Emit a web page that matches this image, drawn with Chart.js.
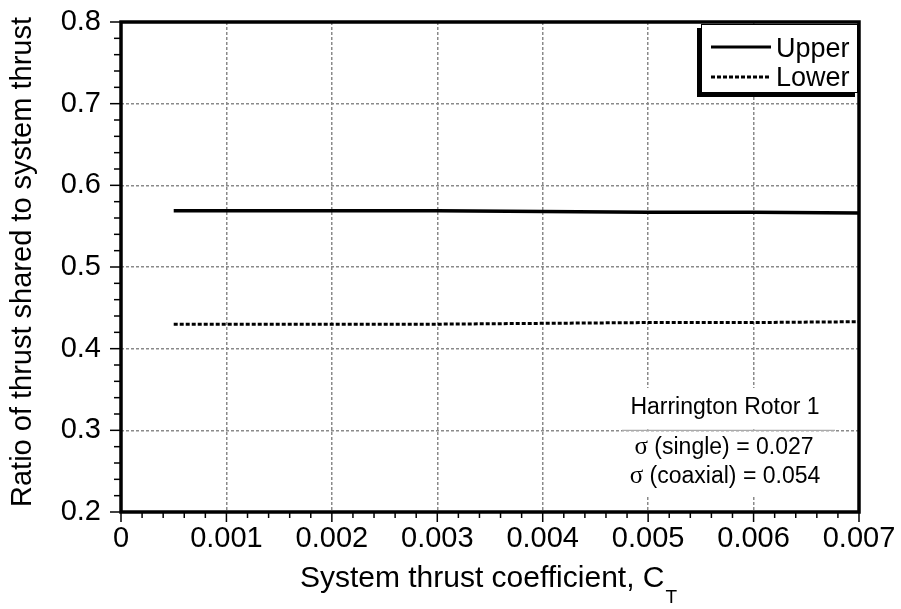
<html>

<head>
    <script src="https://cdn.jsdelivr.net/npm/chart.js@4.4.1/dist/chart.umd.min.js"></script>
    <style>
        body { margin: 0; background: #fff; }
    </style>
</head>

<body>
    <canvas id="thrust-share" width="901" height="609"></canvas>
</body>

<script>
    // values
    var ctValues = [0.0005, 0.001, 0.002, 0.003, 0.004, 0.005, 0.006, 0.007];
    var upperShare = [0.569, 0.569, 0.569, 0.569, 0.568, 0.567, 0.567, 0.566];
    var lowerShare = [0.430, 0.430, 0.430, 0.430, 0.431, 0.432, 0.432, 0.433];
    var xTicks = [0, 0.001, 0.002, 0.003, 0.004, 0.005, 0.006, 0.007];
    var yTicks = [0.2, 0.3, 0.4, 0.5, 0.6, 0.7, 0.8];
    var seriesNames = ["Upper", "Lower"];
    var noteLines = ["Harrington Rotor 1", "\u03c3 (single) = 0.027", "\u03c3 (coaxial) = 0.054"];

    var FONT = "'Liberation Sans', Arial, sans-serif";

    function toPoints(xs, ys) {
        return xs.map(function(x, i) { return {x: x, y: ys[i]}; });
    }

    // sigma drawn in a serif face like the original, rest in sans
    function noteLine(ctx, text, cx, y) {
        var sig = text.charAt(0) === '\u03c3';
        var rest = sig ? text.slice(1) : text;
        ctx.font = '23px ' + FONT;
        var wr = ctx.measureText(rest).width;
        var ws = 0;
        if (sig) {
            ctx.font = '25px "Liberation Serif", serif';
            ws = ctx.measureText('\u03c3').width;
        }
        var x0 = cx - (wr + ws) / 2;
        ctx.textAlign = 'left';
        if (sig) {
            ctx.font = '25px "Liberation Serif", serif';
            ctx.fillText('\u03c3', x0, y);
        }
        ctx.font = '23px ' + FONT;
        ctx.fillText(rest, x0 + ws, y);
    }

    var extras = {
        id: 'extras',
        afterDatasetsDraw: function(chart) {
            var ctx = chart.ctx;
            var gy = chart.scales.y.getPixelForValue(0.3);

            // annotation block
            ctx.save();
            ctx.fillStyle = '#fff';
            ctx.fillRect(622, 388, 213, gy - 389);
            ctx.fillRect(622, gy + 1.5, 213, 494 - gy);
            ctx.strokeStyle = '#aaa';
            ctx.lineWidth = 1.2;
            ctx.beginPath();
            ctx.moveTo(622, gy);
            ctx.lineTo(835, gy);
            ctx.stroke();
            ctx.fillStyle = '#000';
            ctx.textBaseline = 'alphabetic';
            noteLine(ctx, noteLines[0], 725, 414);
            noteLine(ctx, noteLines[1], 724, 454);
            noteLine(ctx, noteLines[2], 725, 483);
            ctx.restore();

            // legend box with shadow
            ctx.save();
            ctx.fillStyle = '#000';
            ctx.fillRect(697, 28, 158, 69);
            ctx.fillStyle = '#fff';
            ctx.fillRect(701, 24, 157, 69);
            ctx.strokeStyle = '#000';
            ctx.lineWidth = 1;
            ctx.strokeRect(701.5, 24.5, 156, 68);
            ctx.lineWidth = 3;
            ctx.beginPath();
            ctx.moveTo(711, 47);
            ctx.lineTo(771, 47);
            ctx.stroke();
            ctx.setLineDash([4, 2]);
            ctx.beginPath();
            ctx.moveTo(711, 77);
            ctx.lineTo(771, 77);
            ctx.stroke();
            ctx.setLineDash([]);
            ctx.fillStyle = '#000';
            ctx.font = '27px ' + FONT;
            ctx.textAlign = 'left';
            ctx.fillText(seriesNames[0], 776, 57);
            ctx.fillText(seriesNames[1], 776, 86);
            ctx.restore();
        },
        afterDraw: function(chart) {
            var ctx = chart.ctx;
            var a = chart.chartArea;
            var xs = chart.scales.x;
            var ys = chart.scales.y;

            ctx.save();
            ctx.strokeStyle = '#000';
            ctx.lineWidth = 1.5;
            // x ticks, minor every 0.0002
            for (var i = 0; i <= 35; i++) {
                var px = xs.getPixelForValue(i * 0.0002);
                var len = (i % 5 === 0) ? 10 : 6;
                ctx.beginPath();
                ctx.moveTo(px, a.bottom);
                ctx.lineTo(px, a.bottom + len);
                ctx.stroke();
            }
            // y ticks, minor every 0.02
            for (var j = 0; j <= 30; j++) {
                var py = ys.getPixelForValue(0.2 + j * 0.02);
                var ylen = (j % 5 === 0) ? 11 : 7;
                ctx.beginPath();
                ctx.moveTo(a.left, py);
                ctx.lineTo(a.left - ylen, py);
                ctx.stroke();
            }
            // frame
            ctx.lineWidth = 3.5;
            ctx.strokeRect(a.left, a.top, a.right - a.left, a.bottom - a.top);

            // axis titles
            ctx.fillStyle = '#000';
            ctx.font = '29px ' + FONT;
            ctx.textAlign = 'center';
            ctx.textBaseline = 'middle';
            ctx.save();
            ctx.translate(23, 262);
            ctx.rotate(-Math.PI / 2);
            ctx.fillText('Ratio of thrust shared to system thrust', 0, 0);
            ctx.restore();

            var mainText = 'System thrust coefficient, C';
            ctx.textBaseline = 'alphabetic';
            ctx.textAlign = 'left';
            ctx.font = '30px ' + FONT;
            var w1 = ctx.measureText(mainText).width;
            ctx.font = '19px ' + FONT;
            var w2 = ctx.measureText('T').width;
            var startX = 488 - (w1 + w2) / 2;
            ctx.font = '30px ' + FONT;
            ctx.fillText(mainText, startX, 587);
            ctx.font = '19px ' + FONT;
            ctx.fillText('T', startX + w1 + 1, 603);
            ctx.restore();
        }
    };

    var ctx = document.getElementById('thrust-share');
    var myChart = new Chart(ctx, {
        type: 'line',
        data: {
            datasets: [{
                label: seriesNames[0],
                data: toPoints(ctValues, upperShare),
                borderColor: '#000',
                borderWidth: 3.5,
                pointRadius: 0,
                fill: false,
                tension: 0
            }, {
                label: seriesNames[1],
                data: toPoints(ctValues, lowerShare),
                borderColor: '#000',
                borderWidth: 3,
                borderDash: [4, 2],
                pointRadius: 0,
                fill: false,
                tension: 0
            }]
        },
        options: {
            responsive: false,
            devicePixelRatio: 1,
            animation: false,
            layout: { padding: { top: 22, right: 42, left: 0, bottom: 0 } },
            plugins: { legend: { display: false }, tooltip: { enabled: false } },
            scales: {
                x: {
                    type: 'linear',
                    min: 0,
                    max: 0.007,
                    afterBuildTicks: function(scale) {
                        scale.ticks = xTicks.map(function(v) { return {value: v}; });
                    },
                    afterFit: function(scale) {
                        scale.height = 97;
                        scale.paddingLeft = 0;
                        scale.paddingRight = 0;
                    },
                    ticks: {
                        color: '#000',
                        font: { family: FONT, size: 29 },
                        padding: 10,
                        maxRotation: 0,
                        autoSkip: false,
                        callback: function(v) { return v === 0 ? '0' : v.toFixed(3); }
                    },
                    grid: {
                        color: '#8a8a8a',
                        lineWidth: 1.5,
                        drawTicks: false
                    },
                    border: { display: false, dash: [3, 2] }
                },
                y: {
                    type: 'linear',
                    min: 0.2,
                    max: 0.8,
                    afterBuildTicks: function(scale) {
                        scale.ticks = yTicks.map(function(v) { return {value: v}; });
                    },
                    afterFit: function(scale) {
                        scale.width = 121;
                        scale.paddingTop = 0;
                        scale.paddingBottom = 0;
                    },
                    ticks: {
                        color: '#000',
                        font: { family: FONT, size: 29 },
                        padding: 20,
                        autoSkip: false,
                        callback: function(v) { return v.toFixed(1); }
                    },
                    grid: {
                        color: '#8a8a8a',
                        lineWidth: 1.5,
                        drawTicks: false
                    },
                    border: { display: false, dash: [3, 2] }
                }
            }
        },
        plugins: [extras]
    });
</script>

</html>
